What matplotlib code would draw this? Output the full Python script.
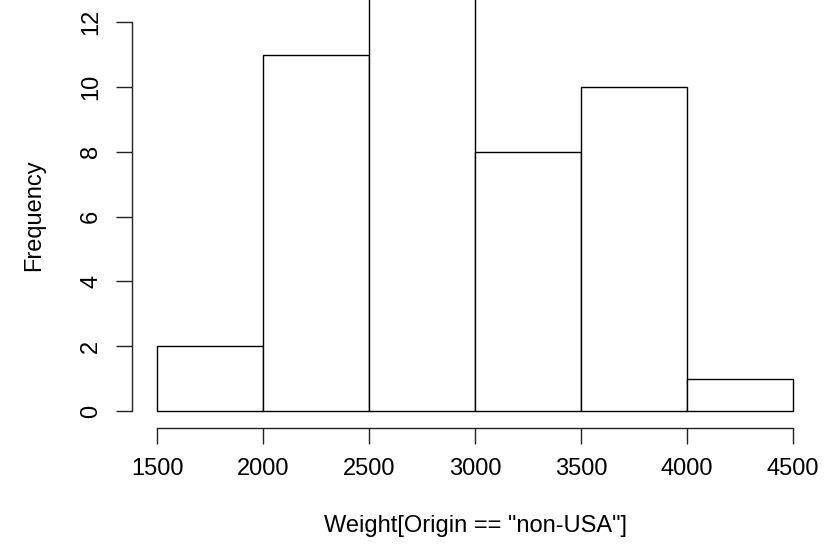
import numpy as np
import matplotlib.pyplot as plt

plt.rcParams['font.family'] = ['Liberation Sans', 'DejaVu Sans']

# histogram of Weight for non-USA cars (counts)
breaks = [1500, 2000, 2500, 3000, 3500, 4000, 4500]
counts = [2, 11, 13, 8, 10, 1]
xticks = [1500, 2000, 2500, 3000, 3500, 4000, 4500]
yticks = [0, 2, 4, 6, 8, 10, 12]

W, H = 839, 546
fig = plt.figure(figsize=(W / 100, H / 100), dpi=100)
# plot region in pixels: x 131.6..818.4, y 428 (bottom) .. 0 (top, cropped)
x0, x1, ybot = 131.6, 818.4, 428.0
ax = fig.add_axes([x0 / W, (H - ybot) / H, (x1 - x0) / W, ybot / H])

left = np.array(breaks[:-1])
widths = np.diff(breaks)
ax.bar(left, counts, width=widths, align='edge', color='white',
       edgecolor='black', linewidth=1.0)

ax.set_xlim(1380, 4620)
ax.set_ylim(-0.525, 411 / 32.4)

for s in ['top', 'right']:
    ax.spines[s].set_visible(False)
ax.spines['left'].set_bounds(0, 12)
ax.spines['bottom'].set_bounds(1500, 4500)
for s in ['left', 'bottom']:
    ax.spines[s].set_linewidth(1.0)
    ax.spines[s].set_color('#222222')

ax.set_xticks(xticks)
ax.set_yticks(yticks)
ax.set_yticklabels([str(v) for v in yticks], rotation=90, va='center')
ax.tick_params(axis='both', length=11.2, width=1.0, color='#222222',
               labelsize=17, direction='out')
ax.tick_params(axis='x', pad=10.5)
ax.tick_params(axis='y', pad=10)

ax.set_xlabel('Weight[Origin == "non-USA"]', fontsize=17)
ax.xaxis.label.set_va('center')
ax.xaxis.set_label_coords(0.5, -(526 - ybot) / ybot)
ax.set_ylabel('Frequency', fontsize=17)
ax.yaxis.label.set_va('center')
ax.yaxis.set_label_coords(-(x0 - 34) / (x1 - x0), (ybot - 215) / ybot)

fig.savefig('out.png', dpi=100)
